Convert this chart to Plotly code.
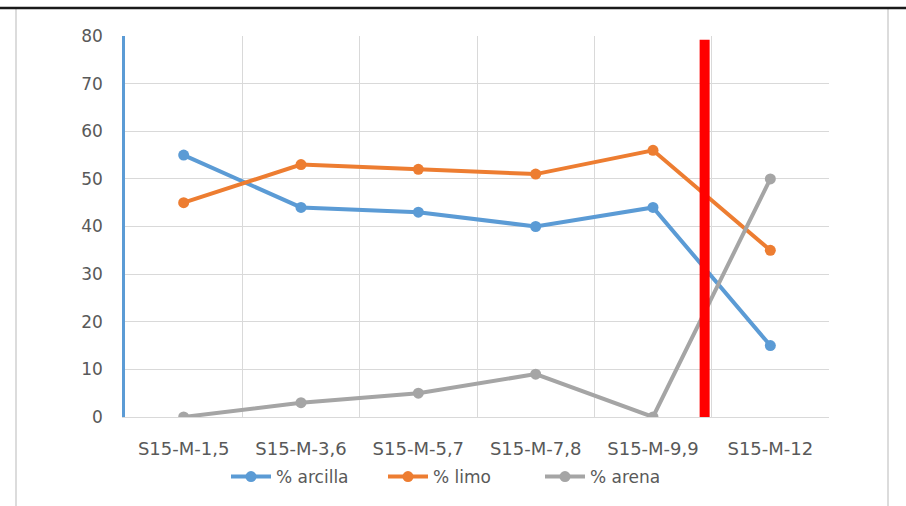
import plotly.graph_objects as go

categories = ["S15-M-1,5", "S15-M-3,6", "S15-M-5,7", "S15-M-7,8", "S15-M-9,9", "S15-M-12"]
arcilla = [55, 44, 43, 40, 44, 15]
limo = [45, 53, 52, 51, 56, 35]
arena = [0, 3, 5, 9, 0, 50]
series_names = ["% arcilla", "% limo", "% arena"]
y_ticks = [0, 10, 20, 30, 40, 50, 60, 70, 80]

colors = ["#5B9BD5", "#ED7D31", "#A5A5A5"]
FONT = "DejaVu Sans, sans-serif"

fig = go.Figure()
for name, vals, c in zip(series_names, [arcilla, limo, arena], colors):
    fig.add_trace(go.Scatter(
        x=categories, y=vals, name=name, mode="lines+markers",
        line=dict(color=c, width=4), marker=dict(color=c, size=11),
    ))

L, R, T, B = 125, 829, 36, 418
W, H = 906, 506
def px(x):
    return (x - L) / (R - L)
def py(y):
    return (B - y) / (B - T)

shapes = [
    # chart frame
    dict(type="line", xref="paper", yref="paper", x0=px(16), x1=px(16), y0=py(8), y1=py(520),
         line=dict(color="#D0D0D0", width=1.5), layer="below"),
    dict(type="line", xref="paper", yref="paper", x0=px(888), x1=px(888), y0=py(8), y1=py(520),
         line=dict(color="#D0D0D0", width=1.5), layer="below"),
    dict(type="line", xref="paper", yref="paper", x0=px(-5), x1=px(911), y0=py(8), y1=py(8),
         line=dict(color="#1A1A1A", width=2.5)),
    # red divider
    dict(type="line", xref="x", yref="y", x0=4.44, x1=4.44, y0=-0.4, y1=79.2,
         line=dict(color="#FF0000", width=10), layer="above"),
]

fig.update_layout(
    width=W, height=H,
    margin=dict(l=L, r=W - R, t=T, b=H - B),
    paper_bgcolor="white", plot_bgcolor="white",
    font=dict(family=FONT, size=17, color="#595959"),
    showlegend=True,
    legend=dict(orientation="h", x=px(226), xanchor="left", y=py(477), yanchor="middle",
                font=dict(family=FONT, size=17, color="#595959"), itemwidth=40,
                entrywidth=102, entrywidthmode="pixels", tracegroupgap=0),
    xaxis=dict(
        type="category", range=[-0.5, 5.5], tickson="boundaries",
        showgrid=True, gridcolor="#D9D9D9", gridwidth=1,
        showline=True, linecolor="#D9D9D9", linewidth=1,
        ticks="", ticklabelstandoff=15, fixedrange=True,
        tickfont=dict(family=FONT, size=18, color="#595959"),
    ),
    yaxis=dict(
        range=[0, 80], tickvals=y_ticks,
        showgrid=True, gridcolor="#D9D9D9", gridwidth=1,
        showline=True, linecolor="#5B9BD5", linewidth=2.5,
        ticks="", ticklabelstandoff=16, zeroline=False,
        tickfont=dict(family=FONT, size=17, color="#595959"),
    ),
    shapes=shapes,
)

fig.write_html("out.html", config={"displayModeBar": False},
               post_script="document.body.style.margin='0';")
